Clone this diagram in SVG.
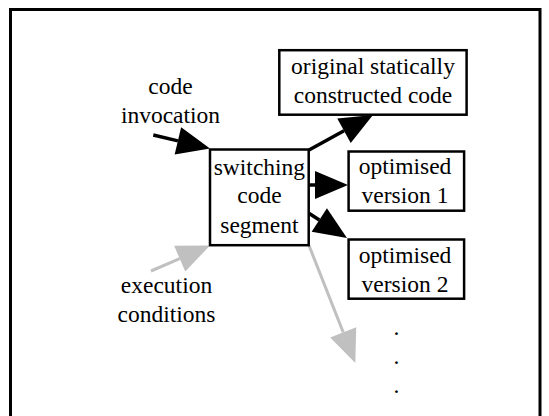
<svg xmlns="http://www.w3.org/2000/svg" width="549" height="416" viewBox="0 0 549 416">
  <style>
    .box { fill: #ffffff; stroke: #000000; stroke-width: 2.5; }
    .lbl { font-family: "Liberation Serif", "Times New Roman", serif; font-size: 23.5px; fill: #000000; text-anchor: middle; }
    .edge { fill: none; stroke: #000000; stroke-width: 3.5; }
    .edge.grey { stroke: #c0c0c0; stroke-width: 3; }
  </style>
  <defs>
    <marker id="headBlack" markerUnits="userSpaceOnUse" markerWidth="34" markerHeight="30" refX="0" refY="14" orient="auto" overflow="visible">
      <path d="M0,0 L33,14 L0,28 Z" fill="#000000"/>
    </marker>
    <marker id="headGrey" markerUnits="userSpaceOnUse" markerWidth="34" markerHeight="30" refX="0" refY="14" orient="auto" overflow="visible">
      <path d="M0,0 L33,14 L0,28 Z" fill="#c0c0c0"/>
    </marker>
  </defs>

  <rect width="549" height="416" fill="#ffffff"/>
  <!-- page frame -->
  <path d="M10.5,420 V9.5 H540 V420" fill="none" stroke="#000000" stroke-width="3"/>

  <g id="connectors">
    <path class="edge" d="M153.3,135 L177.9,140.86" marker-end="url(#headBlack)"/>
    <path class="edge" d="M309,150 L344,130.8" marker-end="url(#headBlack)"/>
    <path class="edge" d="M309,185 L315,185" marker-end="url(#headBlack)"/>
    <path class="edge" d="M309.3,213.5 L319.3,220" marker-end="url(#headBlack)"/>
    <path class="edge grey" d="M151,271 L179.7,258.6" marker-end="url(#headGrey)"/>
    <path class="edge grey" d="M309,245.5 L343.2,332.3" marker-end="url(#headGrey)"/>
  </g>

  <g id="code-invocation">
    <text class="lbl" x="170.5" y="93.7">code</text>
    <text class="lbl" x="170.5" y="123.1">invocation</text>
  </g>

  <g id="execution-conditions">
    <text class="lbl" x="166.5" y="292.7">execution</text>
    <text class="lbl" x="166.5" y="321.5">conditions</text>
  </g>

  <g id="switching-segment">
    <rect class="box" x="210" y="149.5" width="98.7" height="95.7"/>
    <text class="lbl" x="259.4" y="174.6">switching</text>
    <text class="lbl" x="259.4" y="203.4">code</text>
    <text class="lbl" x="259.4" y="232.5">segment</text>
  </g>

  <g id="original-code">
    <rect class="box" x="279.3" y="50.2" width="187.3" height="64.5"/>
    <text class="lbl" x="373" y="73.6">original statically</text>
    <text class="lbl" x="373" y="102.6">constructed code</text>
  </g>

  <g id="optimised-1">
    <rect class="box" x="348.6" y="151.5" width="115.5" height="59.2"/>
    <text class="lbl" x="405" y="174">optimised</text>
    <text class="lbl" x="405" y="203">version 1</text>
  </g>

  <g id="optimised-2">
    <rect class="box" x="348.6" y="239.5" width="115.5" height="59.2"/>
    <text class="lbl" x="405" y="262.6">optimised</text>
    <text class="lbl" x="405" y="291.5">version 2</text>
  </g>

  <g id="more-versions">
    <text class="lbl" x="396.5" y="334.5">.</text>
    <text class="lbl" x="396.5" y="363.5">.</text>
    <text class="lbl" x="396.5" y="393">.</text>
  </g>
</svg>
